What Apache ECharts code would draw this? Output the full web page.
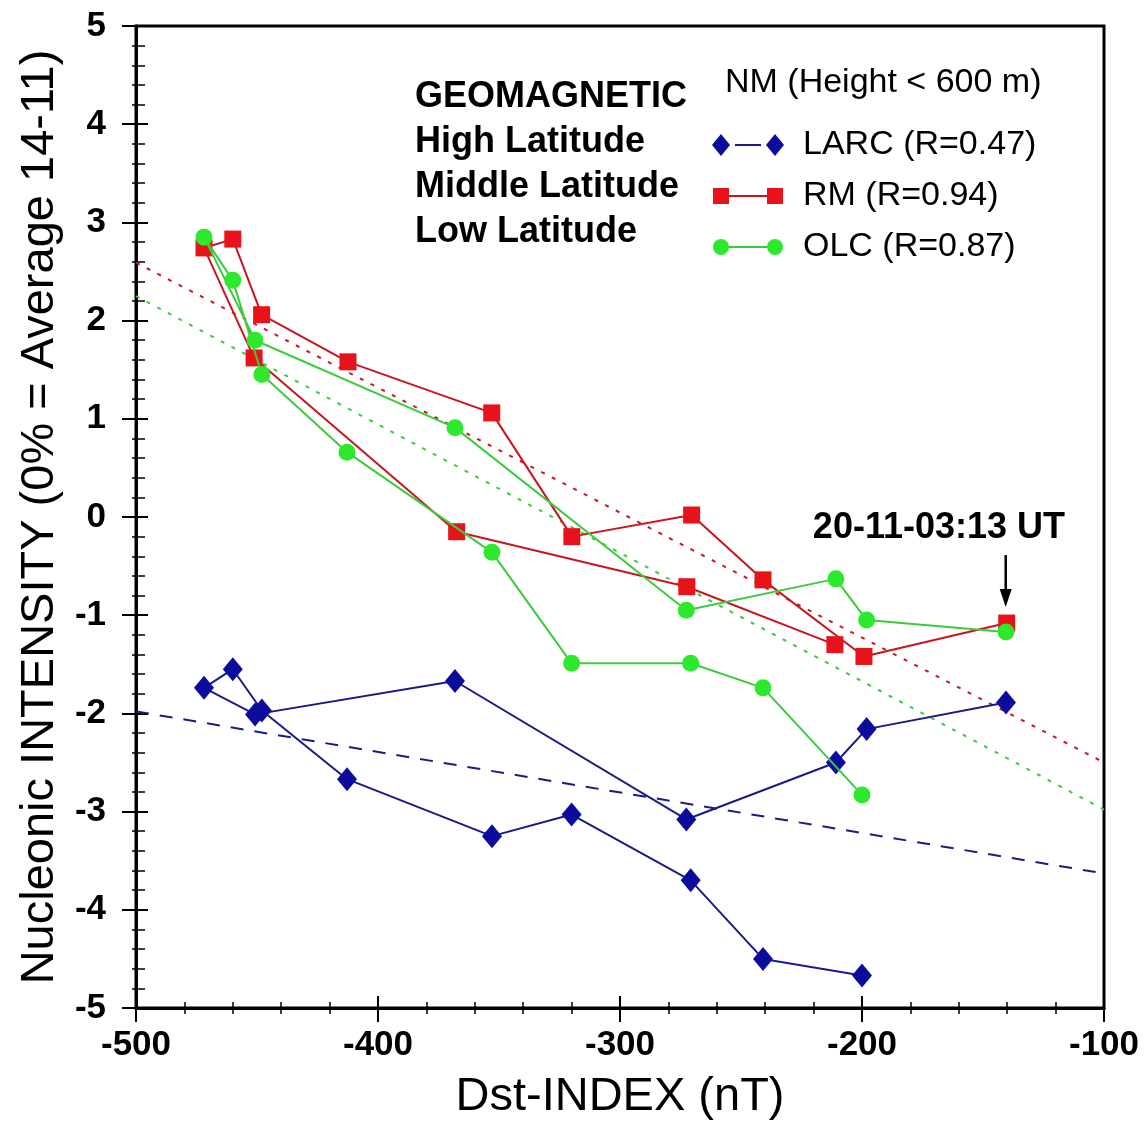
<!DOCTYPE html>
<html><head><meta charset="utf-8">
<script src="https://cdn.jsdelivr.net/npm/echarts@6/dist/echarts.min.js"></script>
<style>html,body{margin:0;padding:0;background:#fff}#c{width:1147px;height:1130px}</style>
</head><body><div id="c"></div>
<script>
// Dst-INDEX values (nT), in sequence, shared by LARC and OLC
const dstIndex = [-140.5, -198.1, -210.8, -272.6, -368.2, -450.8, -471.9, -460.0, -448.0, -412.8, -352.9, -320.0, -270.8, -240.9, -200.0];
const larcValues = [-1.89, -2.16, -2.50, -3.08, -1.67, -2.01, -1.74, -1.55, -1.97, -2.67, -3.25, -3.03, -3.70, -4.50, -4.67];
const olcValues = [-1.17, -1.05, -0.63, -0.95, 0.91, 1.80, 2.85, 2.41, 1.45, 0.66, -0.36, -1.49, -1.49, -1.74, -2.83];
// RM sequence
const rmDst = [-211.2, -272.4, -367.5, -451.2, -471.9, -460.0, -448.1, -412.4, -353.0, -319.9, -270.4, -240.9, -199.2, -140.2];
const rmValues = [-1.30, -0.71, -0.15, 1.62, 2.74, 2.83, 2.06, 1.58, 1.06, -0.20, 0.02, -0.64, -1.42, -1.08];
// Linear fits (end points at axis limits)
const fitDst = [-500, -100];
const larcFit = [-1.98, -3.63];
const rmFit = [2.59, -2.50];
const olcFit = [2.25, -2.98];
// Axis ticks
const xTicks = [-500, -400, -300, -200, -100];
const yTicks = [-5, -4, -3, -2, -1, 0, 1, 2, 3, 4, 5];
// Texts
const seriesNames = ['LARC (R=0.47)', 'RM (R=0.94)', 'OLC (R=0.87)'];
const latitudeLabels = ['GEOMAGNETIC', 'High Latitude', 'Middle Latitude', 'Low Latitude'];
const legendTitle = 'NM (Height < 600 m)';
const eventLabel = '20-11-03:13 UT';

const zip = (xs, ys) => xs.map((x, i) => [x, ys[i]]);

const BLUE = '#0c0c9c', BLUE_L = '#1a1a88';
const RED = '#e8121a', RED_L = '#c8161e';
const GREEN = '#2ee82e', GREEN_L = '#3ccb3c';

const FONT = '"Liberation Sans", Arial, Helvetica, sans-serif';

function xAxisCfg(grid, inside, labels) {
  return {
    type: 'value', gridIndex: grid, min: xTicks[0], max: xTicks[xTicks.length - 1], interval: 100,
    position: 'bottom',
    axisLine: { show: labels, onZero: false, lineStyle: { color: '#000', width: 3 } },
    axisTick: { show: true, inside: inside, length: inside ? 12 : 14, lineStyle: { color: '#000', width: 2 } },
    minorTick: { show: true, splitNumber: 5, length: 6, lineStyle: { color: '#000', width: 1.5 } },
    splitLine: { show: false },
    axisLabel: { show: labels, color: '#000', fontSize: 35, fontWeight: 'bold', fontFamily: FONT, margin: 20 },
    name: labels ? 'Dst-INDEX (nT)' : '', nameLocation: 'middle', nameGap: 66,
    nameTextStyle: { color: '#000', fontSize: 47, fontFamily: FONT }
  };
}
function yAxisCfg(grid, inside, labels) {
  return {
    type: 'value', gridIndex: grid, min: yTicks[0], max: yTicks[yTicks.length - 1], interval: 1,
    position: 'left',
    axisLine: { show: labels, onZero: false, lineStyle: { color: '#000', width: 3 } },
    axisTick: { show: true, inside: inside, length: inside ? 12 : 14, lineStyle: { color: '#000', width: 2 } },
    minorTick: { show: true, splitNumber: 5, length: inside ? 9 : 4, lineStyle: { color: '#000', width: 1.5 } },
    splitLine: { show: false },
    axisLabel: { show: labels, color: '#000', fontSize: 35, fontWeight: 'bold', fontFamily: FONT, margin: 30 },
    name: labels ? 'Nucleonic INTENSITY (0% = Average 14-11)' : '', nameLocation: 'middle', nameGap: 70,
    nameTextStyle: { color: '#000', fontSize: 47, fontFamily: FONT }
  };
}

const gridBox = { left: 136, right: 43, top: 26, bottom: 122 };

const chart = echarts.init(document.getElementById('c'), null, { renderer: 'canvas' });
const option = {
  backgroundColor: '#fff',
  animation: false,
  grid: [
    Object.assign({ show: true, borderColor: '#000', borderWidth: 3, backgroundColor: 'transparent' }, gridBox),
    Object.assign({ show: false }, gridBox)
  ],
  xAxis: [xAxisCfg(0, false, true), xAxisCfg(1, true, false)],
  yAxis: [yAxisCfg(0, false, true), yAxisCfg(1, true, false)],
  series: [
    { type: 'line', name: 'LARC fit', data: zip(fitDst, larcFit), symbol: 'none', z: 1,
      lineStyle: { color: BLUE_L, width: 2, type: [13, 11] } },
    { type: 'line', name: 'RM fit', data: zip(fitDst, rmFit), symbol: 'none', z: 1,
      lineStyle: { color: RED_L, width: 2, type: [4, 8] } },
    { type: 'line', name: 'OLC fit', data: zip(fitDst, olcFit), symbol: 'none', z: 1,
      lineStyle: { color: GREEN_L, width: 2, type: [4, 8] } },
    { type: 'line', name: seriesNames[0], data: zip(dstIndex, larcValues), z: 3,
      symbol: 'diamond', symbolSize: [20, 24], itemStyle: { color: BLUE },
      lineStyle: { color: BLUE_L, width: 2 } },
    { type: 'line', name: seriesNames[1], data: zip(rmDst, rmValues), z: 4,
      symbol: 'rect', symbolSize: 17, itemStyle: { color: RED },
      lineStyle: { color: RED_L, width: 2 } },
    { type: 'line', name: seriesNames[2], data: zip(dstIndex, olcValues), z: 5,
      symbol: 'circle', symbolSize: 17, itemStyle: { color: GREEN },
      lineStyle: { color: GREEN_L, width: 2 } }
  ]
};
chart.setOption(option);

// Annotations / legend
const g = [];
latitudeLabels.forEach((t, i) => {
  g.push({ type: 'text', x: 415, y: 97 + i * 45, z: 50,
    style: { text: t, fill: '#000', font: 'bold 36px ' + FONT, verticalAlign: 'middle', align: 'left' } });
});
g.push({ type: 'text', x: 725, y: 83, z: 50,
  style: { text: legendTitle, fill: '#000', font: '34px ' + FONT, verticalAlign: 'middle', align: 'left' } });
const rowsY = [145, 196, 247];
const symL = 721, symR = 775;
// LARC
g.push({ type: 'line', z: 50, shape: { x1: symL + 14, y1: rowsY[0], x2: symR - 14, y2: rowsY[0] }, style: { stroke: BLUE_L, lineWidth: 2 } });
[symL, symR].forEach(x => g.push({ type: 'polygon', z: 51,
  shape: { points: [[x, rowsY[0] - 11], [x + 9, rowsY[0]], [x, rowsY[0] + 11], [x - 9, rowsY[0]]] }, style: { fill: BLUE } }));
// RM
g.push({ type: 'line', z: 50, shape: { x1: symL, y1: rowsY[1], x2: symR, y2: rowsY[1] }, style: { stroke: RED_L, lineWidth: 2 } });
[symL, symR].forEach(x => g.push({ type: 'rect', z: 51,
  shape: { x: x - 8, y: rowsY[1] - 8, width: 16, height: 16 }, style: { fill: RED } }));
// OLC
g.push({ type: 'line', z: 50, shape: { x1: symL, y1: rowsY[2], x2: symR, y2: rowsY[2] }, style: { stroke: GREEN_L, lineWidth: 2 } });
[symL, symR].forEach(x => g.push({ type: 'circle', z: 51,
  shape: { cx: x, cy: rowsY[2], r: 8 }, style: { fill: GREEN } }));
seriesNames.forEach((t, i) => g.push({ type: 'text', x: 803, y: rowsY[i], z: 50,
  style: { text: t, fill: '#000', font: '34px ' + FONT, verticalAlign: 'middle', align: 'left' } }));

// event arrow anchored at the last RM point
const p = chart.convertToPixel({ gridIndex: 0 }, [rmDst[rmDst.length - 1], rmValues[rmValues.length - 1]]);
const ax = p[0] - 1;
g.push({ type: 'line', z: 50, shape: { x1: ax, y1: p[1] - 68, x2: ax, y2: p[1] - 26 }, style: { stroke: '#000', lineWidth: 2.5 } });
g.push({ type: 'polygon', z: 50, shape: { points: [[ax - 6, p[1] - 34], [ax + 6, p[1] - 34], [ax, p[1] - 16]] }, style: { fill: '#000' } });
g.push({ type: 'text', x: 1065, y: p[1] - 95, z: 50,
  style: { text: eventLabel, fill: '#000', font: 'bold 36px ' + FONT, verticalAlign: 'middle', align: 'right' } });

chart.setOption({ graphic: { elements: g } });
</script>
</body></html>
